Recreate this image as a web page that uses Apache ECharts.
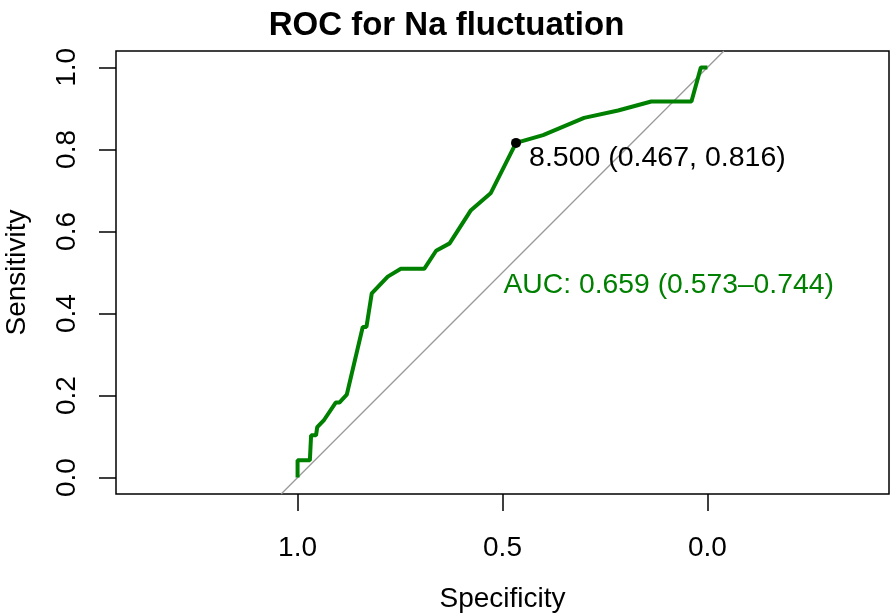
<!DOCTYPE html>
<html>
<head>
<meta charset="utf-8">
<script src="https://cdn.jsdelivr.net/npm/echarts@6/dist/echarts.min.js"></script>
<style>
html,body{margin:0;padding:0;background:#fff;}
#chart{width:893px;height:616px;}
</style>
</head>
<body>
<div id="chart"></div>
<script>
// ROC curve points: specificity and sensitivity
var specificity = [1.000, 1.000, 0.970, 0.967, 0.955, 0.952, 0.935, 0.907, 0.898, 0.880, 0.841, 0.832, 0.819, 0.780, 0.748, 0.691, 0.662, 0.629, 0.577, 0.529, 0.467, 0.401, 0.301, 0.218, 0.137, 0.039, 0.016, 0.000];
var sensitivity = [0.000, 0.042, 0.042, 0.103, 0.103, 0.123, 0.141, 0.183, 0.183, 0.202, 0.367, 0.367, 0.449, 0.490, 0.509, 0.509, 0.553, 0.571, 0.652, 0.693, 0.816, 0.835, 0.877, 0.895, 0.917, 0.917, 1.000, 1.000];
var diagSpec = [1.04, -0.04];
var diagSens = [-0.04, 1.04];
var bestThreshold = 8.5;
var bestSpec = 0.467;
var bestSens = 0.816;
var aucValue = 0.659;
var aucLow = 0.573;
var aucHigh = 0.744;
var aucTextPos = [0.5, 0.5];
var xTicks = [0, 0.5, 1];
var yTicks = [0, 0.2, 0.4, 0.6, 0.8, 1.0];

var rocData = specificity.map(function (s, i) { return [s, sensitivity[i]]; });
var diagData = diagSpec.map(function (s, i) { return [s, diagSens[i]]; });

var chart = echarts.init(document.getElementById('chart'), null, {renderer: 'canvas'});
var font = 'Liberation Sans, Arial, Helvetica, sans-serif';
chart.setOption({
  animation: false,
  backgroundColor: '#ffffff',
  textStyle: {fontFamily: font},
  title: {
    text: 'ROC for Na fluctuation',
    left: 'center',
    top: 4,
    textStyle: {fontFamily: font, fontSize: 33, fontWeight: 'bold', color: '#000'}
  },
  grid: {
    left: 116, right: 4, top: 51, bottom: 122,
    outerBoundsMode: 'none',
    containLabel: false,
    show: true, borderColor: '#000', borderWidth: 1.5, backgroundColor: 'transparent'
  },
  xAxis: {
    type: 'value',
    inverse: true,
    min: -0.443,
    max: 1.443,
    name: 'Specificity',
    nameLocation: 'middle',
    nameGap: 91,
    nameTextStyle: {fontFamily: font, fontSize: 28, color: '#000'},
    axisLine: {show: false, onZero: false},
    splitLine: {show: false},
    axisTick: {show: true, inside: false, length: 17, customValues: xTicks, lineStyle: {color: '#000', width: 1.5}},
    axisLabel: {
      show: true, customValues: xTicks, margin: 40,
      fontFamily: font, fontSize: 28, color: '#000',
      formatter: function (v) { return v.toFixed(1); }
    }
  },
  yAxis: {
    type: 'value',
    min: -0.04,
    max: 1.04,
    name: 'Sensitivity',
    nameLocation: 'middle',
    nameGap: 85,
    nameRotate: 90,
    nameTextStyle: {fontFamily: font, fontSize: 28, color: '#000'},
    axisLine: {show: false, onZero: false},
    splitLine: {show: false},
    axisTick: {show: true, inside: false, length: 17, customValues: yTicks, lineStyle: {color: '#000', width: 1.5}},
    axisLabel: {
      show: true, customValues: yTicks, margin: 35, rotate: 90,
      fontFamily: font, fontSize: 28, color: '#000',
      formatter: function (v) { return v.toFixed(1); }
    }
  },
  series: [
    {
      type: 'line',
      data: diagData,
      symbol: 'none',
      silent: true,
      lineStyle: {color: '#9a9a9a', width: 1.3},
      z: 1
    },
    {
      type: 'line',
      data: rocData,
      symbol: 'none',
      lineStyle: {color: '#008000', width: 4},
      z: 3
    },
    {
      type: 'scatter',
      data: [[bestSpec, bestSens]],
      symbol: 'circle',
      symbolSize: 10,
      itemStyle: {color: '#000', opacity: 1},
      label: {
        show: true,
        position: 'right',
        distance: 8,
        offset: [0, 15],
        opacity: 1,
        fontFamily: font, fontSize: 28.5, color: '#000',
        formatter: function () {
          return bestThreshold.toFixed(3) + ' (' + bestSpec.toFixed(3) + ', ' + bestSens.toFixed(3) + ')';
        }
      },
      z: 4
    },
    {
      type: 'scatter',
      data: [aucTextPos],
      symbol: 'circle',
      symbolSize: 0,
      itemStyle: {color: '#008000', opacity: 1},
      label: {
        show: true,
        position: [0, 0],
        align: 'left',
        verticalAlign: 'top',
        offset: [1, -1],
        opacity: 1,
        fontFamily: font, fontSize: 28.3, color: '#008000',
        formatter: function () {
          return 'AUC: ' + aucValue.toFixed(3) + ' (' + aucLow.toFixed(3) + '\u2013' + aucHigh.toFixed(3) + ')';
        }
      },
      z: 4
    }
  ]
});
</script>
</body>
</html>
